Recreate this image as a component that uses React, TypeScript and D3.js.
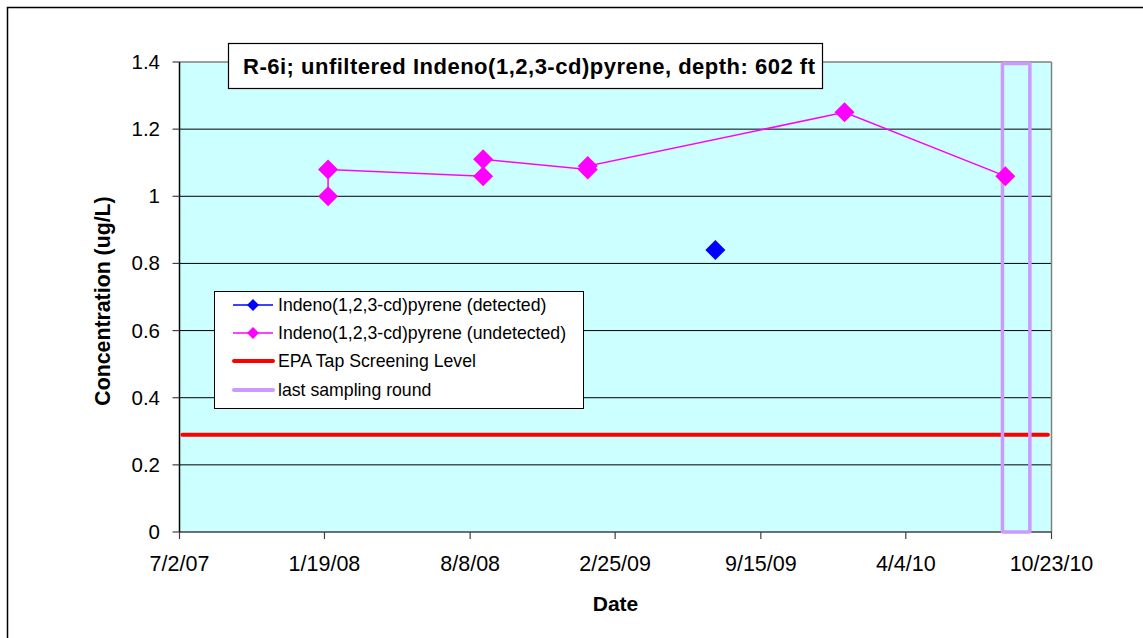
import React from "react";
import * as d3 from "d3";

const W = 1143;
const H = 638;
const FONT = "'Liberation Sans', Arial, Helvetica, sans-serif";

const xTickLabels = ["7/2/07", "1/19/08", "8/8/08", "2/25/09", "9/15/09", "4/4/10", "10/23/10"];
const yTicks = [0, 0.2, 0.4, 0.6, 0.8, 1, 1.2, 1.4];

const detectedDates = ["7/14/09"];
const detectedValues = [0.84];

const undetectedDates = ["1/24/08", "1/24/08", "8/26/08", "8/26/08", "1/18/09", "1/18/09", "1/9/10", "8/20/10"];
const undetectedValues = [1.0, 1.08, 1.06, 1.11, 1.08, 1.09, 1.25, 1.06];

const epaLevel = 0.29;
const epaDates = ["7/6/07", "10/18/10"];

const lastRoundDates = ["8/16/10", "9/23/10"];
const lastRoundValues = [0, 1.4];

const titleText = "R-6i; unfiltered Indeno(1,2,3-cd)pyrene, depth: 602 ft";
const legendLabels = [
  "Indeno(1,2,3-cd)pyrene (detected)",
  "Indeno(1,2,3-cd)pyrene (undetected)",
  "EPA Tap Screening Level",
  "last sampling round",
];

const parse = d3.utcParse("%m/%d/%y");

const M = { left: 179.5, right: 1051.5, top: 62, bottom: 532 };

function diamond(cx: number, cy: number, r: number) {
  return `M${cx},${cy - r}L${cx + r},${cy}L${cx},${cy + r}L${cx - r},${cy}Z`;
}

export default function App() {
  const x = d3
    .scaleUtc()
    .domain([parse(xTickLabels[0])!, parse(xTickLabels[xTickLabels.length - 1])!])
    .range([M.left, M.right]);
  const y = d3.scaleLinear().domain([0, 1.4]).range([M.bottom, M.top]);

  const undet = undetectedDates.map((d, i) => ({ d: parse(d)!, v: undetectedValues[i] }));
  const det = detectedDates.map((d, i) => ({ d: parse(d)!, v: detectedValues[i] }));

  const line = d3
    .line<{ d: Date; v: number }>()
    .x((p) => x(p.d))
    .y((p) => y(p.v));

  const lrX0 = x(parse(lastRoundDates[0])!);
  const lrX1 = x(parse(lastRoundDates[1])!);
  const lrY0 = y(lastRoundValues[1]);
  const lrY1 = y(lastRoundValues[0]);

  const legX = 214;
  const legY = 291;
  const legRows = [305, 333, 361, 390];

  return (
    <svg
      width={W}
      height={H}
      style={{ position: "absolute", left: 0, top: 0, fontFamily: FONT }}
    >
      <rect x={0} y={0} width={W} height={H} fill="#fff" />
      <rect x={7.5} y={7.5} width={1150} height={650} fill="none" stroke="#000" strokeWidth={1.5} />

      {/* plot area */}
      <rect x={M.left} y={M.top} width={M.right - M.left} height={M.bottom - M.top} fill="#CCFFFF" />
      {yTicks.slice(1, -1).map((t) => (
        <line key={t} x1={M.left} x2={M.right} y1={y(t)} y2={y(t)} stroke="#000" strokeWidth={1} />
      ))}
      <line x1={M.left} x2={M.right} y1={M.top} y2={M.top} stroke="#808080" strokeWidth={1.5} />
      <line x1={M.right} x2={M.right} y1={M.top} y2={M.bottom} stroke="#808080" strokeWidth={1.5} />
      <line x1={M.left} x2={M.right} y1={M.bottom} y2={M.bottom} stroke="#404040" strokeWidth={1.5} />
      <line x1={M.left} x2={M.left} y1={M.top} y2={M.bottom} stroke="#000" strokeWidth={1.5} />

      {/* y ticks */}
      {yTicks.map((t) => (
        <g key={t}>
          <line x1={M.left - 7} x2={M.left} y1={y(t)} y2={y(t)} stroke="#404040" strokeWidth={1.2} />
          <text x={160} y={y(t) + 7} textAnchor="end" fontSize={20.5} fill="#000">
            {d3.format("")(t)}
          </text>
        </g>
      ))}
      {/* x ticks */}
      {xTickLabels.map((l) => {
        const xx = x(parse(l)!);
        return (
          <g key={l}>
            <line x1={xx} x2={xx} y1={M.bottom} y2={M.bottom + 7} stroke="#404040" strokeWidth={1.2} />
            <text x={xx} y={571} textAnchor="middle" fontSize={21.5} fill="#000">
              {l}
            </text>
          </g>
        );
      })}

      {/* EPA level */}
      <line
        x1={x(parse(epaDates[0])!)}
        x2={x(parse(epaDates[1])!)}
        y1={y(epaLevel)}
        y2={y(epaLevel)}
        stroke="#FF0000"
        strokeWidth={4}
        strokeLinecap="round"
      />

      {/* last sampling round */}
      <rect
        x={lrX0}
        y={lrY0 + 1.5}
        width={lrX1 - lrX0}
        height={lrY1 - lrY0 - 1.5}
        fill="none"
        stroke="#CC99FF"
        strokeWidth={3.5}
        rx={1}
      />

      {/* undetected series */}
      <path d={line(undet) || ""} fill="none" stroke="#FF00FF" strokeWidth={1.5} />
      {undet.map((p, i) => (
        <path key={i} d={diamond(x(p.d), y(p.v), 10)} fill="#FF00FF" />
      ))}
      {/* detected series */}
      {det.length > 1 && <path d={line(det) || ""} fill="none" stroke="#0000FF" strokeWidth={1.5} />}
      {det.map((p, i) => (
        <path key={i} d={diamond(x(p.d), y(p.v), 10)} fill="#0000FF" />
      ))}

      {/* title box */}
      <rect x={228.5} y={43.5} width={594} height={45} fill="#fff" stroke="#000" strokeWidth={1.2} />
      <text
        x={529}
        y={74}
        textAnchor="middle"
        fontSize={22}
        fontWeight="bold"
        fill="#000"
        textLength={572}
        lengthAdjust="spacing"
      >
        {titleText}
      </text>

      {/* legend */}
      <rect x={legX + 0.5} y={legY + 0.5} width={369} height={117} fill="#fff" stroke="#000" strokeWidth={1} />
      {legendLabels.map((lab, i) => {
        const yy = legRows[i];
        let sym: React.ReactNode = null;
        if (i === 0 || i === 1) {
          const c = i === 0 ? "#0000FF" : "#FF00FF";
          sym = (
            <g>
              <line x1={233} x2={273} y1={yy} y2={yy} stroke={c} strokeWidth={1.5} />
              <path d={diamond(253, yy, 6)} fill={c} />
            </g>
          );
        } else {
          const c = i === 2 ? "#FF0000" : "#CC99FF";
          sym = <line x1={234} x2={273} y1={yy} y2={yy} stroke={c} strokeWidth={4} strokeLinecap="round" />;
        }
        return (
          <g key={lab}>
            {sym}
            <text x={278} y={yy + 6} fontSize={17.7} fill="#000">
              {lab}
            </text>
          </g>
        );
      })}

      {/* axis titles */}
      <text x={615.5} y={611} textAnchor="middle" fontSize={21} fontWeight="bold" fill="#000">
        Date
      </text>
      <text
        transform={`translate(110,${(M.top + M.bottom) / 2 + 4}) rotate(-90)`}
        textAnchor="middle"
        fontSize={21.3}
        fontWeight="bold"
        fill="#000"
      >
        Concentration (ug/L)
      </text>
    </svg>
  );
}
